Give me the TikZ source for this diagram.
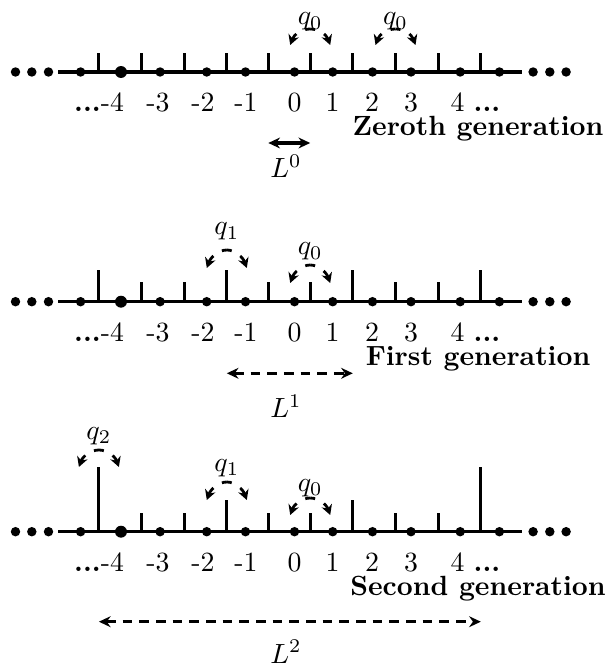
\documentclass[tikz,border=0pt]{standalone}
\usetikzlibrary{arrows.meta}
\tikzset{
  axisline/.style={line width=1.1pt},
  tickline/.style={line width=1.1pt},
  dotnode/.style={circle,fill=black,draw=none,inner sep=0pt,minimum size=3.4pt},
  bigdot/.style={dotnode,minimum size=4.3pt},
  numlabel/.style={inner sep=0pt,anchor=base},
  genlabel/.style={inner sep=0pt,anchor=base,font=\bfseries},
  qlabel/.style={inner sep=0pt,anchor=base},
  qhalf/.style={line width=1pt,dash pattern=on 1.8pt off 3.6pt on 20pt,-{Stealth[length=3.6pt,width=3.9pt]}},
  spanarrow/.style={line width=1.1pt,{Stealth[length=4.2pt,width=3.9pt]}-{Stealth[length=4.2pt,width=3.9pt]}},
  spandashed/.style={spanarrow,dash pattern=on 3.5pt off 2.5pt},
}
\newcommand\latticerow[4]{%
  \coordinate (#1L) at (58.2,#2);
  \coordinate (#1R) at (521.5,#2);
  \draw[axisline] (#1L) -- (#1R);
  \foreach \i/\x/\h in {#3}{
    \coordinate (#1b\i) at (\x,#2);
    \coordinate (#1t\i) at (\x,#2-\h);
    \draw[tickline] (#1b\i) -- (#1t\i);
  }
  \foreach \n/\x in {a/80.6,c/160.1,d/206.7,e/245.5,f/294.5,g/332.7,h/372.5,i/411,j/460.2,k/499.4,l1/15.5,l2/31.8,l3/48.5,r1/533.1,r2/549.8,r3/566.1}{
    \node[dotnode] (#1d\n) at (\x,#2) {};
  }
  \node[bigdot] (#1db) at (121,#2) {};
  \node[numlabel,anchor=base east] (#1nm4) at (124.5,#2+40) {\textbf{...}-4};
  \node[numlabel] (#1nm3) at (158,#2+40) {-3};
  \node[numlabel] (#1nm2) at (203,#2+40) {-2};
  \node[numlabel] (#1nm1) at (246,#2+40) {-1};
  \node[numlabel] (#1n0) at (294.6,#2+40) {0};
  \node[numlabel] (#1n1) at (332.6,#2+40) {1};
  \node[numlabel] (#1n2) at (372,#2+40) {2};
  \node[numlabel] (#1n3) at (411,#2+40) {3};
  \node[numlabel,anchor=base west] (#1n4) at (450,#2+40) {4 \textbf{...}};
  \node[genlabel] (#1gen) at (478,#2+64) {#4};
}
\newcommand\qarc[6]{%
  \coordinate (#1top) at (#2,#3);
  \coordinate (#1l) at (#2-20,#4);
  \coordinate (#1r) at (#2+20,#4);
  \draw[qhalf] (#1top) .. controls +(-8,0) and +(4,-11) .. (#1l);
  \draw[qhalf] (#1top) .. controls +(8,0) and +(-4,-11) .. (#1r);
  \node[qlabel] (#1lab) at (#2,#6) {#5};
}
\begin{document}
\begin{tikzpicture}[x=0.36pt,y=-0.36pt]
\useasboundingbox (0,0) rectangle (608,666);

% Zeroth generation
\latticerow{z}{72}{1/98.9/19,2/141.5/19,3/184.2/19,4/226.8/19,5/268.3/19,6/310.2/19,7/352.8/19,8/395.5/19,9/438.1/19,10/480.8/19}{Zeroth generation}
\qarc{zqa}{310.2}{29}{45}{$q_0$}{25}
\qarc{zqb}{395.5}{29}{45}{$q_0$}{25}
\coordinate (zLs) at (268.3,143);
\coordinate (zLe) at (310.2,143);
\draw[spanarrow] (zLs) -- (zLe);
\node[qlabel] (zLlab) at (286,178) {$L^0$};

% First generation
\latticerow{f}{301.7}{1/98.9/32,2/141.5/20,3/184.2/20,4/226.8/32,5/268.3/20,6/310.2/20,7/352.8/32,8/395.5/20,9/438.1/20,10/480.8/32}{First generation}
\qarc{fqa}{226.8}{250}{268}{$q_1$}{235}
\qarc{fqb}{310.2}{265}{283}{$q_0$}{255}
\coordinate (fLs) at (226.8,373.3);
\coordinate (fLe) at (352.8,373.3);
\draw[spandashed] (fLs) -- (fLe);
\node[qlabel] (fLlab) at (286,418) {$L^1$};

% Second generation
\latticerow{s}{531.7}{1/98.9/65,2/141.5/19,3/184.2/19,4/226.8/32,5/268.3/19,6/310.2/19,7/352.8/32,8/395.5/19,9/438.1/19,10/480.8/65}{Second generation}
\qarc{sqa}{98.9}{450}{467}{$q_2$}{439}
\qarc{sqb}{226.8}{482}{500}{$q_1$}{471}
\qarc{sqc}{310.2}{498}{515}{$q_0$}{491}
\coordinate (sLs) at (98.9,621.7);
\coordinate (sLe) at (480.8,621.7);
\draw[spandashed] (sLs) -- (sLe);
\node[qlabel] (sLlab) at (286,663) {$L^2$};
\end{tikzpicture}
\end{document}
